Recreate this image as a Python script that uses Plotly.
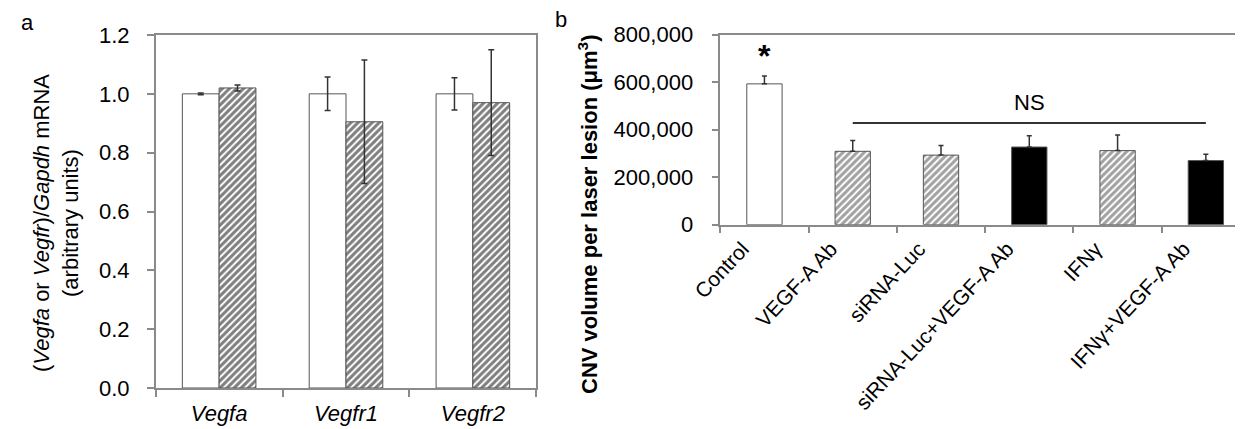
import plotly.graph_objects as go

# ---------------- data ----------------
genes_a = ["Vegfa", "Vegfr1", "Vegfr2"]
control_a = [1.00, 1.00, 1.00]
control_a_err = [0.003, 0.057, 0.055]
treated_a = [1.02, 0.905, 0.97]
treated_a_err = [0.01, 0.21, 0.18]

groups_b = ["Control", "VEGF-A Ab", "siRNA-Luc", "siRNA-Luc+VEGF-A Ab", "IFNγ", "IFNγ+VEGF-A Ab"]
cnv_b = [593000, 309000, 293000, 327000, 312000, 270000]
cnv_b_err = [33000, 46000, 41000, 48000, 66000, 27000]
style_b = ["open", "hatched", "hatched", "solid", "hatched", "solid"]
ns_level = 428000

yticks_a = [0, 0.2, 0.4, 0.6, 0.8, 1.0, 1.2]
yticks_b = [0, 200000, 400000, 600000, 800000]

FONT = "Liberation Sans, Arial, sans-serif"
AXC = "#8a8a8a"
EDGE = "#555555"
ERR = "#333333"
HATCH = "#000000"

fig = go.Figure()

W_A = 0.29
fig.add_trace(go.Bar(
    x=genes_a, y=control_a, width=W_A, offset=-W_A,
    marker=dict(color="white", line=dict(color=EDGE, width=1)),
    error_y=dict(type="data", array=control_a_err, color=ERR, thickness=1.5, width=3),
    xaxis="x", yaxis="y", showlegend=False,
))
fig.add_trace(go.Bar(
    x=genes_a, y=treated_a, width=W_A, offset=0,
    marker=dict(color="white", line=dict(color=EDGE, width=1),
                pattern=dict(shape="/", size=5, solidity=0.6, fgcolor=HATCH,
                             bgcolor="white", fillmode="overlay")),
    error_y=dict(type="data", array=treated_a_err, color=ERR, thickness=1.5, width=3),
    xaxis="x", yaxis="y", showlegend=False,
))

shape_map = {"open": "", "hatched": "/", "solid": ""}
color_map = {"open": "white", "hatched": "white", "solid": "black"}
W_B = 0.40
fig.add_trace(go.Bar(
    x=groups_b, y=cnv_b, width=W_B, offset=-W_B / 2,
    marker=dict(color=[color_map[s] for s in style_b], line=dict(color=EDGE, width=1),
                pattern=dict(shape=[shape_map[s] for s in style_b], size=5, solidity=0.6,
                             fgcolor=HATCH, bgcolor="white", fillmode="overlay")),
    error_y=dict(type="data", symmetric=False, array=cnv_b_err, arrayminus=[0] * len(cnv_b),
                 color=ERR, thickness=1.5, width=2.5),
    xaxis="x2", yaxis="y2", showlegend=False,
))

W, H = 1243, 429
def px_x(p):
    return p / W
def px_y(p):
    return (H - p) / H

line_common = dict(showline=True, linecolor=AXC, linewidth=1.5, mirror=True,
                   ticks="outside", tickcolor=AXC, ticklen=7, tickwidth=1.5,
                   showgrid=False, zeroline=False, automargin=False)

fig.update_layout(
    width=W, height=H,
    margin=dict(l=0, r=0, t=0, b=0),
    paper_bgcolor="white", plot_bgcolor="white",
    barmode="overlay",
    font=dict(family=FONT, size=22, color="black"),
    xaxis=dict(domain=[px_x(147.7), px_x(528.3)], anchor="y", type="category",
               range=[-0.5, 2.5], tickson="boundaries", ticklabelstandoff=5,
               tickfont=dict(family=FONT, size=22, color="black", style="italic"),
               **line_common),
    yaxis=dict(domain=[px_y(380), px_y(27)], anchor="x", range=[0, 1.2],
               tickvals=yticks_a, tickformat=".1f", ticklabelstandoff=13,
               tickfont=dict(family=FONT, size=22, color="black"), **line_common),
    xaxis2=dict(domain=[px_x(712.3), px_x(1242.0)], anchor="y2", type="category",
                range=[-0.5, 5.5], tickson="boundaries", tickangle=-47,
                ticklabelshift=-22, ticklabelstandoff=2,
                tickfont=dict(family=FONT, size=21, color="black"), **line_common),
    yaxis2=dict(domain=[px_y(216.7), px_y(26.7)], anchor="x2", range=[0, 800000],
                tickvals=yticks_b, tickformat=",d", ticklabelstandoff=14,
                tickfont=dict(family=FONT, size=22, color="black"), **line_common),
)

# NS line across the treated groups
fig.add_shape(type="line", xref="x2", yref="y2", x0=1, x1=5, y0=ns_level, y1=ns_level,
              line=dict(color="#333333", width=2))

annotations = [
    dict(text="NS", xref="x2", yref="y2", x=3, y=ns_level + 25000, yanchor="bottom",
         showarrow=False, font=dict(size=22)),
    dict(text="<b>*</b>", xref="x2", yref="y2", x=0, y=cnv_b[0] + cnv_b_err[0], yanchor="bottom",
         showarrow=False, font=dict(size=32)),
    dict(text="a", xref="paper", yref="paper", x=px_x(19.5), y=px_y(14), xanchor="center",
         yanchor="middle", showarrow=False, font=dict(size=22)),
    dict(text="b", xref="paper", yref="paper", x=px_x(553), y=px_y(11), xanchor="center",
         yanchor="middle", showarrow=False, font=dict(size=22)),
    dict(text="(<i>Vegfa</i> or <i>Vegfr</i>)/<i>Gapdh</i> mRNA<br>(arbitrary units)",
         xref="paper", yref="paper", x=px_x(48), y=px_y(215), xanchor="center", yanchor="middle",
         textangle=-90, showarrow=False, font=dict(size=22)),
    dict(text="<b>CNV volume per laser lesion (μm<sup>3</sup>)</b>",
         xref="paper", yref="paper", x=px_x(580), y=px_y(207), xanchor="center", yanchor="middle",
         textangle=-90, showarrow=False, font=dict(size=22)),
]
fig.update_layout(annotations=annotations)

fig.write_html("out.html")
